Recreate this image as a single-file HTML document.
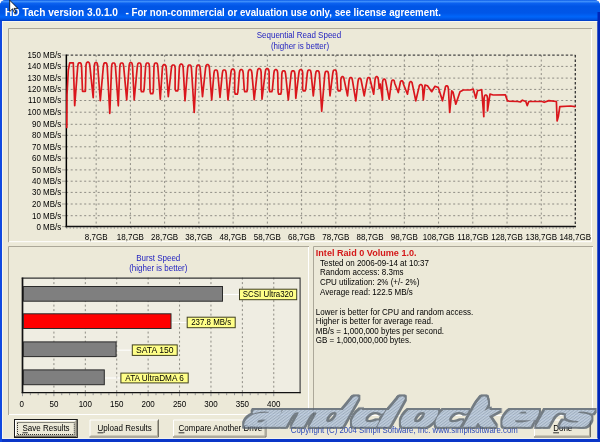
<!DOCTYPE html><html><head><meta charset="utf-8"><title>HD Tach</title><style>
html,body{margin:0;padding:0;width:600px;height:442px;overflow:hidden;background:#fff}
svg{display:block}
text{font-family:'Liberation Sans', Arial, sans-serif;font-size:8.6px;fill:#000}
.bl{fill:#2323C0}
</style></head><body>
<svg width="600" height="442" viewBox="0 0 600 442">
<defs>
<linearGradient id="tb" x1="0" y1="0" x2="0" y2="1"><stop offset="0" stop-color="#0A5BE8"/><stop offset="0.07" stop-color="#3D8EFA"/><stop offset="0.16" stop-color="#0B61F0"/><stop offset="0.3" stop-color="#0055E5"/><stop offset="0.62" stop-color="#0056E8"/><stop offset="0.8" stop-color="#0066FA"/><stop offset="0.93" stop-color="#0052E0"/><stop offset="1" stop-color="#0038C0"/></linearGradient>
<linearGradient id="wmg" x1="0" y1="0" x2="0" y2="1"><stop offset="0" stop-color="#8FA3BE"/><stop offset="0.45" stop-color="#C5D4E6"/><stop offset="1" stop-color="#9DB0C9"/></linearGradient>
<pattern id="wmh" width="2.6" height="10" patternUnits="userSpaceOnUse" patternTransform="rotate(32)"><rect width="2.6" height="10" fill="#B6C7DD"/><rect width="1.1" height="10" fill="#8B9FB9"/></pattern>
</defs>
<path d="M0,6 Q0,0 6,0 L594,0 Q600,0 600,6 L600,442 L0,442 Z" fill="#0A40D8"/>
<path d="M0,6 Q0,0 6,0 L594,0 Q600,0 600,6 L600,21 L0,21 Z" fill="url(#tb)"/>
<rect x="2" y="21" width="595.5" height="418" fill="#ECE9D8"/>
<rect x="2" y="21" width="595.5" height="1" fill="#F7F6F0"/>
<rect x="2" y="21" width="1" height="417" fill="#F7F6F0"/>
<rect x="597.5" y="12" width="2.5" height="430" fill="#0026B8"/>
<rect x="2" y="438" width="595.5" height="1" fill="#F4F3EC"/>
<rect x="0" y="439" width="600" height="3" fill="#0A36C8"/>
<rect x="0" y="21" width="2" height="421" fill="#1048E0"/>
<text x="5" y="15.6" style="font:bold 10px 'Liberation Sans', Arial, sans-serif;fill:#fff" textLength="113" lengthAdjust="spacingAndGlyphs">HD Tach version 3.0.1.0</text>
<text x="125.4" y="15.6" style="font:bold 10px 'Liberation Sans', Arial, sans-serif;fill:#fff">-</text>
<text x="131.5" y="15.6" style="font:bold 10px 'Liberation Sans', Arial, sans-serif;fill:#fff" textLength="309.5" lengthAdjust="spacingAndGlyphs">For non-commercial or evaluation use only, see license agreement.</text>
<path d="M8.5,242.2 V28.5 H592" fill="none" stroke="#ACA899" stroke-width="1"/>
<path d="M9,241.7 H591.5 V29" fill="none" stroke="#FFFFFF" stroke-width="1"/>
<path d="M8.5,415 V246.5 H309" fill="none" stroke="#ACA899" stroke-width="1"/>
<path d="M9,414.5 H308.5 V247" fill="none" stroke="#FFFFFF" stroke-width="1"/>
<path d="M313.5,416 V246.5 H593" fill="none" stroke="#ACA899" stroke-width="1"/>
<path d="M314,415.5 H592.5 V247" fill="none" stroke="#FFFFFF" stroke-width="1"/>
<line x1="66.2" y1="215.7" x2="575.3" y2="215.7" stroke="#8E8C84" stroke-width="1" stroke-dasharray="2,2.5"/>
<line x1="66.2" y1="204" x2="575.3" y2="204" stroke="#8E8C84" stroke-width="1" stroke-dasharray="2,2.5"/>
<line x1="66.2" y1="192.4" x2="575.3" y2="192.4" stroke="#8E8C84" stroke-width="1" stroke-dasharray="2,2.5"/>
<line x1="66.2" y1="181.2" x2="575.3" y2="181.2" stroke="#8E8C84" stroke-width="1" stroke-dasharray="2,2.5"/>
<line x1="66.2" y1="169.9" x2="575.3" y2="169.9" stroke="#8E8C84" stroke-width="1" stroke-dasharray="2,2.5"/>
<line x1="66.2" y1="158.1" x2="575.3" y2="158.1" stroke="#8E8C84" stroke-width="1" stroke-dasharray="2,2.5"/>
<line x1="66.2" y1="146.8" x2="575.3" y2="146.8" stroke="#8E8C84" stroke-width="1" stroke-dasharray="2,2.5"/>
<line x1="66.2" y1="135.3" x2="575.3" y2="135.3" stroke="#8E8C84" stroke-width="1" stroke-dasharray="2,2.5"/>
<line x1="66.2" y1="124.3" x2="575.3" y2="124.3" stroke="#8E8C84" stroke-width="1" stroke-dasharray="2,2.5"/>
<line x1="66.2" y1="112.2" x2="575.3" y2="112.2" stroke="#8E8C84" stroke-width="1" stroke-dasharray="2,2.5"/>
<line x1="66.2" y1="100.5" x2="575.3" y2="100.5" stroke="#8E8C84" stroke-width="1" stroke-dasharray="2,2.5"/>
<line x1="66.2" y1="89.4" x2="575.3" y2="89.4" stroke="#8E8C84" stroke-width="1" stroke-dasharray="2,2.5"/>
<line x1="66.2" y1="78.1" x2="575.3" y2="78.1" stroke="#8E8C84" stroke-width="1" stroke-dasharray="2,2.5"/>
<line x1="66.2" y1="66.4" x2="575.3" y2="66.4" stroke="#8E8C84" stroke-width="1" stroke-dasharray="2,2.5"/>
<line x1="96.16" y1="55.07" x2="96.16" y2="229.5" stroke="#8E8C84" stroke-width="1" stroke-dasharray="2,2.5"/>
<line x1="130.4" y1="55.07" x2="130.4" y2="229.5" stroke="#8E8C84" stroke-width="1" stroke-dasharray="2,2.5"/>
<line x1="164.64" y1="55.07" x2="164.64" y2="229.5" stroke="#8E8C84" stroke-width="1" stroke-dasharray="2,2.5"/>
<line x1="198.88" y1="55.07" x2="198.88" y2="229.5" stroke="#8E8C84" stroke-width="1" stroke-dasharray="2,2.5"/>
<line x1="233.12" y1="55.07" x2="233.12" y2="229.5" stroke="#8E8C84" stroke-width="1" stroke-dasharray="2,2.5"/>
<line x1="267.36" y1="55.07" x2="267.36" y2="229.5" stroke="#8E8C84" stroke-width="1" stroke-dasharray="2,2.5"/>
<line x1="301.6" y1="55.07" x2="301.6" y2="229.5" stroke="#8E8C84" stroke-width="1" stroke-dasharray="2,2.5"/>
<line x1="335.84" y1="55.07" x2="335.84" y2="229.5" stroke="#8E8C84" stroke-width="1" stroke-dasharray="2,2.5"/>
<line x1="370.08" y1="55.07" x2="370.08" y2="229.5" stroke="#8E8C84" stroke-width="1" stroke-dasharray="2,2.5"/>
<line x1="404.32" y1="55.07" x2="404.32" y2="229.5" stroke="#8E8C84" stroke-width="1" stroke-dasharray="2,2.5"/>
<line x1="438.56" y1="55.07" x2="438.56" y2="229.5" stroke="#8E8C84" stroke-width="1" stroke-dasharray="2,2.5"/>
<line x1="472.8" y1="55.07" x2="472.8" y2="229.5" stroke="#8E8C84" stroke-width="1" stroke-dasharray="2,2.5"/>
<line x1="507.04" y1="55.07" x2="507.04" y2="229.5" stroke="#8E8C84" stroke-width="1" stroke-dasharray="2,2.5"/>
<line x1="541.28" y1="55.07" x2="541.28" y2="229.5" stroke="#8E8C84" stroke-width="1" stroke-dasharray="2,2.5"/>
<line x1="66.2" y1="55.07" x2="575.3" y2="55.07" stroke="#444" stroke-width="1.2" stroke-dasharray="2.5,2"/>
<line x1="575.3" y1="55.07" x2="575.3" y2="226.6" stroke="#333" stroke-width="1.3" stroke-dasharray="2.5,2"/>
<line x1="66.2" y1="228" x2="575.3" y2="228" stroke="#888" stroke-width="1" stroke-dasharray="1.2,2.2"/>
<line x1="62" y1="226.6" x2="66" y2="226.6" stroke="#A4A298" stroke-width="1"/>
<line x1="62" y1="215.7" x2="66" y2="215.7" stroke="#A4A298" stroke-width="1"/>
<line x1="62" y1="204" x2="66" y2="204" stroke="#A4A298" stroke-width="1"/>
<line x1="62" y1="192.4" x2="66" y2="192.4" stroke="#A4A298" stroke-width="1"/>
<line x1="62" y1="181.2" x2="66" y2="181.2" stroke="#A4A298" stroke-width="1"/>
<line x1="62" y1="169.9" x2="66" y2="169.9" stroke="#A4A298" stroke-width="1"/>
<line x1="62" y1="158.1" x2="66" y2="158.1" stroke="#A4A298" stroke-width="1"/>
<line x1="62" y1="146.8" x2="66" y2="146.8" stroke="#A4A298" stroke-width="1"/>
<line x1="62" y1="135.3" x2="66" y2="135.3" stroke="#A4A298" stroke-width="1"/>
<line x1="62" y1="124.3" x2="66" y2="124.3" stroke="#A4A298" stroke-width="1"/>
<line x1="62" y1="112.2" x2="66" y2="112.2" stroke="#A4A298" stroke-width="1"/>
<line x1="62" y1="100.5" x2="66" y2="100.5" stroke="#A4A298" stroke-width="1"/>
<line x1="62" y1="89.4" x2="66" y2="89.4" stroke="#A4A298" stroke-width="1"/>
<line x1="62" y1="78.1" x2="66" y2="78.1" stroke="#A4A298" stroke-width="1"/>
<line x1="62" y1="66.4" x2="66" y2="66.4" stroke="#A4A298" stroke-width="1"/>
<line x1="62" y1="55.07" x2="66" y2="55.07" stroke="#A4A298" stroke-width="1"/>
<line x1="66.35" y1="54.57" x2="66.35" y2="227.29999999999998" stroke="#000" stroke-width="1.5"/>
<line x1="65.6" y1="226.6" x2="575.9" y2="226.6" stroke="#111" stroke-width="1.5"/>
<text x="61.3" y="229.5" text-anchor="end" textLength="24.89" lengthAdjust="spacingAndGlyphs">0 MB/s</text>
<text x="61.3" y="218.6" text-anchor="end" textLength="29.34" lengthAdjust="spacingAndGlyphs">10 MB/s</text>
<text x="61.3" y="206.9" text-anchor="end" textLength="29.34" lengthAdjust="spacingAndGlyphs">20 MB/s</text>
<text x="61.3" y="195.3" text-anchor="end" textLength="29.34" lengthAdjust="spacingAndGlyphs">30 MB/s</text>
<text x="61.3" y="184.1" text-anchor="end" textLength="29.34" lengthAdjust="spacingAndGlyphs">40 MB/s</text>
<text x="61.3" y="172.8" text-anchor="end" textLength="29.34" lengthAdjust="spacingAndGlyphs">50 MB/s</text>
<text x="61.3" y="161" text-anchor="end" textLength="29.34" lengthAdjust="spacingAndGlyphs">60 MB/s</text>
<text x="61.3" y="149.7" text-anchor="end" textLength="29.34" lengthAdjust="spacingAndGlyphs">70 MB/s</text>
<text x="61.3" y="138.2" text-anchor="end" textLength="29.34" lengthAdjust="spacingAndGlyphs">80 MB/s</text>
<text x="61.3" y="127.2" text-anchor="end" textLength="29.34" lengthAdjust="spacingAndGlyphs">90 MB/s</text>
<text x="61.3" y="115.1" text-anchor="end" textLength="33.79" lengthAdjust="spacingAndGlyphs">100 MB/s</text>
<text x="61.3" y="103.4" text-anchor="end" textLength="33.2" lengthAdjust="spacingAndGlyphs">110 MB/s</text>
<text x="61.3" y="92.3" text-anchor="end" textLength="33.79" lengthAdjust="spacingAndGlyphs">120 MB/s</text>
<text x="61.3" y="81" text-anchor="end" textLength="33.79" lengthAdjust="spacingAndGlyphs">130 MB/s</text>
<text x="61.3" y="69.3" text-anchor="end" textLength="33.79" lengthAdjust="spacingAndGlyphs">140 MB/s</text>
<text x="61.3" y="57.97" text-anchor="end" textLength="33.79" lengthAdjust="spacingAndGlyphs">150 MB/s</text>
<text x="96.16" y="239.7" text-anchor="middle" textLength="22.68" lengthAdjust="spacingAndGlyphs">8,7GB</text>
<text x="130.4" y="239.7" text-anchor="middle" textLength="27.13" lengthAdjust="spacingAndGlyphs">18,7GB</text>
<text x="164.64" y="239.7" text-anchor="middle" textLength="27.13" lengthAdjust="spacingAndGlyphs">28,7GB</text>
<text x="198.88" y="239.7" text-anchor="middle" textLength="27.13" lengthAdjust="spacingAndGlyphs">38,7GB</text>
<text x="233.12" y="239.7" text-anchor="middle" textLength="27.13" lengthAdjust="spacingAndGlyphs">48,7GB</text>
<text x="267.36" y="239.7" text-anchor="middle" textLength="27.13" lengthAdjust="spacingAndGlyphs">58,7GB</text>
<text x="301.6" y="239.7" text-anchor="middle" textLength="27.13" lengthAdjust="spacingAndGlyphs">68,7GB</text>
<text x="335.84" y="239.7" text-anchor="middle" textLength="27.13" lengthAdjust="spacingAndGlyphs">78,7GB</text>
<text x="370.08" y="239.7" text-anchor="middle" textLength="27.13" lengthAdjust="spacingAndGlyphs">88,7GB</text>
<text x="404.32" y="239.7" text-anchor="middle" textLength="27.13" lengthAdjust="spacingAndGlyphs">98,7GB</text>
<text x="438.56" y="239.7" text-anchor="middle" textLength="31.58" lengthAdjust="spacingAndGlyphs">108,7GB</text>
<text x="472.8" y="239.7" text-anchor="middle" textLength="30.98" lengthAdjust="spacingAndGlyphs">118,7GB</text>
<text x="507.04" y="239.7" text-anchor="middle" textLength="31.58" lengthAdjust="spacingAndGlyphs">128,7GB</text>
<text x="541.28" y="239.7" text-anchor="middle" textLength="31.58" lengthAdjust="spacingAndGlyphs">138,7GB</text>
<text x="591" y="239.7" text-anchor="end" textLength="31.58" lengthAdjust="spacingAndGlyphs">148,7GB</text>
<text x="299" y="38.3" text-anchor="middle" class="bl" textLength="84.51" lengthAdjust="spacingAndGlyphs">Sequential Read Speed</text>
<text x="300" y="48.8" text-anchor="middle" class="bl" textLength="58.25" lengthAdjust="spacingAndGlyphs">(higher is better)</text>
<path d="M66.8,127.5 L67,95 L68.3,70 L69.7,62.8 L73.3,62.8 L74.7,105.6 L77.75,66 L78.25,63.6 L78.95,62.8 L80.35,62.8 L81.05,63.6 L81.55,66 L82.5,91.3 L85.4,91.3 L86,65.4 L86.5,63 L87.2,62.2 L88.6,62.2 L89.3,63 L89.8,65.4 L93.2,97.7 L94.3,65.7 L94.8,63.3 L95.5,62.5 L96.5,62.5 L97.2,63.3 L97.7,65.7 L100.3,100.6 L103.4,66 L103.9,63.6 L104.6,62.8 L106,62.8 L106.7,63.6 L107.2,66 L109.8,113.4 L111.6,66.2 L112.1,63.8 L112.8,63 L114.2,63 L114.9,63.8 L115.4,66.2 L118.3,105.8 L119.85,66.2 L120.35,63.8 L121.05,63 L122.45,63 L123.15,63.8 L123.65,66.2 L126.7,100 L129.1,65.7 L129.6,63.3 L130.3,62.5 L131.3,62.5 L132,63.3 L132.5,65.7 L134.2,100 L137.35,66.2 L137.85,63.8 L138.55,63 L139.95,63 L140.65,63.8 L141.15,66.2 L140.9,89.5 L141.5,91.7 L143.5,91.7 L144.1,89.5 L145.65,66.2 L146.15,63.8 L146.85,63 L148.25,63 L148.95,63.8 L149.45,66.2 L150.1,91.5 L150.7,93.7 L152.7,93.7 L153.3,91.5 L154,66.2 L154.5,63.8 L155.2,63 L156.6,63 L157.3,63.8 L157.8,66.2 L160.3,99.2 L162.4,67.9 L162.9,65.5 L163.6,64.7 L165,64.7 L165.7,65.5 L166.2,67.9 L168.3,96.7 L171.4,68.2 L171.9,65.8 L172.6,65 L174,65 L174.7,65.8 L175.2,68.2 L175.1,88.6 L175.7,90.8 L177.7,90.8 L178.3,88.6 L179.35,67.4 L179.85,65 L180.55,64.2 L181.95,64.2 L182.65,65 L183.15,67.4 L185,100.8 L187.65,68.2 L188.15,65.8 L188.85,65 L190.25,65 L190.95,65.8 L191.45,68.2 L194.2,112.5 L196.4,68.2 L196.9,65.8 L197.6,65 L199,65 L199.7,65.8 L200.2,68.2 L202.5,96.7 L205.6,67.9 L206.1,65.5 L206.8,64.7 L208.2,64.7 L208.9,65.5 L209.4,67.9 L211.7,100 L213.95,73.2 L214.45,70.8 L215.15,70 L216.55,70 L217.25,70.8 L217.75,73.2 L220,97.5 L222.35,73.2 L222.85,70.8 L223.55,70 L224.95,70 L225.65,70.8 L226.15,73.2 L228,100 L230.95,72.4 L231.45,70 L232.15,69.2 L233.55,69.2 L234.25,70 L234.75,72.4 L234.7,92 L235.3,94.2 L237.3,94.2 L237.9,92 L239.4,72.9 L239.9,70.5 L240.6,69.7 L242,69.7 L242.7,70.5 L243.2,72.9 L244.2,89.5 L244.8,91.7 L246.8,91.7 L247.4,89.5 L248.1,72.9 L248.6,70.5 L249.3,69.7 L250.7,69.7 L251.4,70.5 L251.9,72.9 L254.2,99.7 L257.3,71.9 L257.8,69.5 L258.5,68.7 L259.9,68.7 L260.6,69.5 L261.1,71.9 L262,99.2 L265.3,71.9 L265.8,69.5 L266.5,68.7 L267.9,68.7 L268.6,69.5 L269.1,71.9 L269.2,89.5 L269.8,91.7 L271.8,91.7 L272.4,89.5 L273.9,72.9 L274.4,70.5 L275.1,69.7 L276.5,69.7 L277.2,70.5 L277.7,72.9 L278.1,92 L278.7,94.2 L280.7,94.2 L281.3,92 L281.8,74 L282.3,71.6 L283,70.8 L284.4,70.8 L285.1,71.6 L285.6,74 L288.3,100 L291.1,74 L291.6,71.6 L292.3,70.8 L293.7,70.8 L294.4,71.6 L294.9,74 L295.8,98.3 L298.9,72.9 L299.4,70.5 L300.1,69.7 L301.5,69.7 L302.2,70.5 L302.7,72.9 L302.6,88.6 L303.2,90.8 L305.2,90.8 L305.8,88.6 L307.3,73.2 L307.8,70.8 L308.5,70 L309.9,70 L310.6,70.8 L311.1,73.2 L313.3,95.8 L315.6,74 L316.1,71.6 L316.8,70.8 L318.2,70.8 L318.9,71.6 L319.4,74 L321.7,111.3 L324.8,74.5 L325.3,72.1 L326,71.3 L327.4,71.3 L328.1,72.1 L328.6,74.5 L330,95.8 L332.8,73.2 L333.3,70.8 L334,70 L335.4,70 L336.1,70.8 L336.6,73.2 L337.6,88.6 L338.2,90.8 L340.2,90.8 L340.8,88.6 L340.8,79.9 L341.3,77.5 L342,76.7 L343,76.7 L343.7,77.5 L344.2,79.9 L347.5,95.8 L349.1,80.7 L349.6,78.3 L350.3,77.5 L351.3,77.5 L352,78.3 L352.5,80.7 L355.8,100.8 L358,81.5 L358.5,79.1 L359.2,78.3 L360.2,78.3 L360.9,79.1 L361.4,81.5 L364.2,95.8 L367,80.7 L367.5,78.3 L368.2,77.5 L369.2,77.5 L369.9,78.3 L370.4,80.7 L373.7,94.2 L375,79.9 L375.5,77.5 L376.2,76.7 L377.2,76.7 L377.9,77.5 L378.4,79.9 L379.2,88.3 L380.3,84 L382.5,100 L382.5,82.4 L383,80 L383.7,79.2 L384.7,79.2 L385.4,80 L385.9,82.4 L389.2,99.2 L391.3,83.2 L391.8,80.8 L392.5,80 L393.5,80 L394.2,80.8 L394.7,83.2 L398.3,92.5 L400,84 L400.5,81.6 L401.2,80.8 L402.2,80.8 L402.9,81.6 L403.4,84 L407.5,94.2 L409.1,84.9 L409.6,82.5 L410.3,81.7 L411.3,81.7 L412,82.5 L412.5,84.9 L415.8,100.8 L418.85,87.9 L419.35,85.5 L420.05,84.7 L421.45,84.7 L422.15,85.5 L422.65,87.9 L423.3,100 L425,85 L427.5,85.8 L431.7,91.7 L435,86.3 L438.3,87.5 L442.5,100.8 L445,89 L445.5,86.6 L446.2,85.8 L447.2,85.8 L447.9,86.6 L448.4,89 L449.7,112.5 L451.7,90.8 L453,92 L455.8,104.2 L460,91.7 L463.3,90 L470,90 L473.3,89.2 L475.8,98.3 L477.5,90.8 L481.7,89.7 L483.8,116.7 L484.1,98.2 L484.6,95.8 L485.3,95 L486.3,95 L487,95.8 L487.5,98.2 L487.5,110.8 L490,94.2 L493.3,95 L505.4,94.9 L507.5,101 L517.7,101.5 L520.4,102 L522.4,100.2 L525.8,101.5 L527.2,105.6 L528.8,101.5 L542.1,101.5 L544.2,102.3 L548.9,100.6 L556.4,101.5 L557.1,121 L558.4,116.2 L559.8,106.7 L570.7,106 L575,106.7" fill="none" stroke="#DA161C" stroke-width="1.7" stroke-linejoin="round" stroke-linecap="round"/>
<text x="158.3" y="260.6" text-anchor="middle" class="bl" textLength="44.03" lengthAdjust="spacingAndGlyphs">Burst Speed</text>
<text x="158.3" y="270.6" text-anchor="middle" class="bl" textLength="58.25" lengthAdjust="spacingAndGlyphs">(higher is better)</text>
<rect x="21.7" y="277.6" width="278.9" height="115.6" fill="#EFEDE2"/>
<line x1="53.91" y1="277.6" x2="53.91" y2="393.2" stroke="#8E8C84" stroke-width="1" stroke-dasharray="2,2.5"/>
<line x1="85.32" y1="277.6" x2="85.32" y2="393.2" stroke="#8E8C84" stroke-width="1" stroke-dasharray="2,2.5"/>
<line x1="116.73" y1="277.6" x2="116.73" y2="393.2" stroke="#8E8C84" stroke-width="1" stroke-dasharray="2,2.5"/>
<line x1="148.14" y1="277.6" x2="148.14" y2="393.2" stroke="#8E8C84" stroke-width="1" stroke-dasharray="2,2.5"/>
<line x1="179.55" y1="277.6" x2="179.55" y2="393.2" stroke="#8E8C84" stroke-width="1" stroke-dasharray="2,2.5"/>
<line x1="210.96" y1="277.6" x2="210.96" y2="393.2" stroke="#8E8C84" stroke-width="1" stroke-dasharray="2,2.5"/>
<line x1="242.37" y1="277.6" x2="242.37" y2="393.2" stroke="#8E8C84" stroke-width="1" stroke-dasharray="2,2.5"/>
<line x1="273.78" y1="277.6" x2="273.78" y2="393.2" stroke="#8E8C84" stroke-width="1" stroke-dasharray="2,2.5"/>
<line x1="22.5" y1="393.2" x2="22.5" y2="396.2" stroke="#999" stroke-width="1"/>
<line x1="30.35" y1="393.2" x2="30.35" y2="395.2" stroke="#999" stroke-width="1"/>
<line x1="38.2" y1="393.2" x2="38.2" y2="395.2" stroke="#999" stroke-width="1"/>
<line x1="46.06" y1="393.2" x2="46.06" y2="395.2" stroke="#999" stroke-width="1"/>
<line x1="53.91" y1="393.2" x2="53.91" y2="396.2" stroke="#999" stroke-width="1"/>
<line x1="61.76" y1="393.2" x2="61.76" y2="395.2" stroke="#999" stroke-width="1"/>
<line x1="69.62" y1="393.2" x2="69.62" y2="395.2" stroke="#999" stroke-width="1"/>
<line x1="77.47" y1="393.2" x2="77.47" y2="395.2" stroke="#999" stroke-width="1"/>
<line x1="85.32" y1="393.2" x2="85.32" y2="396.2" stroke="#999" stroke-width="1"/>
<line x1="93.17" y1="393.2" x2="93.17" y2="395.2" stroke="#999" stroke-width="1"/>
<line x1="101.02" y1="393.2" x2="101.02" y2="395.2" stroke="#999" stroke-width="1"/>
<line x1="108.88" y1="393.2" x2="108.88" y2="395.2" stroke="#999" stroke-width="1"/>
<line x1="116.73" y1="393.2" x2="116.73" y2="396.2" stroke="#999" stroke-width="1"/>
<line x1="124.58" y1="393.2" x2="124.58" y2="395.2" stroke="#999" stroke-width="1"/>
<line x1="132.44" y1="393.2" x2="132.44" y2="395.2" stroke="#999" stroke-width="1"/>
<line x1="140.29" y1="393.2" x2="140.29" y2="395.2" stroke="#999" stroke-width="1"/>
<line x1="148.14" y1="393.2" x2="148.14" y2="396.2" stroke="#999" stroke-width="1"/>
<line x1="155.99" y1="393.2" x2="155.99" y2="395.2" stroke="#999" stroke-width="1"/>
<line x1="163.84" y1="393.2" x2="163.84" y2="395.2" stroke="#999" stroke-width="1"/>
<line x1="171.7" y1="393.2" x2="171.7" y2="395.2" stroke="#999" stroke-width="1"/>
<line x1="179.55" y1="393.2" x2="179.55" y2="396.2" stroke="#999" stroke-width="1"/>
<line x1="187.4" y1="393.2" x2="187.4" y2="395.2" stroke="#999" stroke-width="1"/>
<line x1="195.25" y1="393.2" x2="195.25" y2="395.2" stroke="#999" stroke-width="1"/>
<line x1="203.11" y1="393.2" x2="203.11" y2="395.2" stroke="#999" stroke-width="1"/>
<line x1="210.96" y1="393.2" x2="210.96" y2="396.2" stroke="#999" stroke-width="1"/>
<line x1="218.81" y1="393.2" x2="218.81" y2="395.2" stroke="#999" stroke-width="1"/>
<line x1="226.66" y1="393.2" x2="226.66" y2="395.2" stroke="#999" stroke-width="1"/>
<line x1="234.52" y1="393.2" x2="234.52" y2="395.2" stroke="#999" stroke-width="1"/>
<line x1="242.37" y1="393.2" x2="242.37" y2="396.2" stroke="#999" stroke-width="1"/>
<line x1="250.22" y1="393.2" x2="250.22" y2="395.2" stroke="#999" stroke-width="1"/>
<line x1="258.07" y1="393.2" x2="258.07" y2="395.2" stroke="#999" stroke-width="1"/>
<line x1="265.93" y1="393.2" x2="265.93" y2="395.2" stroke="#999" stroke-width="1"/>
<line x1="273.78" y1="393.2" x2="273.78" y2="396.2" stroke="#999" stroke-width="1"/>
<path d="M21.7,278.1 H300.1 V393.2" fill="none" stroke="#333" stroke-width="1.1"/>
<line x1="22.5" y1="277.6" x2="22.5" y2="393.2" stroke="#111" stroke-width="1.7"/>
<line x1="21.7" y1="392.59999999999997" x2="300.6" y2="392.59999999999997" stroke="#111" stroke-width="1.4"/>
<line x1="223" y1="294.45" x2="239" y2="294.45" stroke="#fff" stroke-width="1"/>
<rect x="23.4" y="286.5" width="199.1" height="14.7" fill="#7F7F7F" stroke="#2a2a2a" stroke-width="1"/>
<rect x="239.5" y="289.2" width="57.2" height="10.5" fill="#FFFF88" stroke="#404020" stroke-width="1"/>
<text x="268.1" y="297.35" text-anchor="middle" textLength="50.5" lengthAdjust="spacingAndGlyphs">SCSI Ultra320</text>
<line x1="171.5" y1="322.45" x2="186.7" y2="322.45" stroke="#fff" stroke-width="1"/>
<rect x="23.4" y="313.8" width="147.6" height="14.7" fill="#FF0000" stroke="#2a2a2a" stroke-width="1"/>
<rect x="187.2" y="317.2" width="48" height="10.5" fill="#FFFF88" stroke="#404020" stroke-width="1"/>
<text x="211.2" y="325.35" text-anchor="middle" textLength="40" lengthAdjust="spacingAndGlyphs">237.8 MB/s</text>
<line x1="116.6" y1="350.15" x2="131.8" y2="350.15" stroke="#fff" stroke-width="1"/>
<rect x="23.4" y="341.9" width="92.7" height="14.7" fill="#7F7F7F" stroke="#2a2a2a" stroke-width="1"/>
<rect x="132.3" y="344.9" width="44.9" height="10.5" fill="#FFFF88" stroke="#404020" stroke-width="1"/>
<text x="154.75" y="353.05" text-anchor="middle" textLength="37.5" lengthAdjust="spacingAndGlyphs">SATA 150</text>
<line x1="104.8" y1="378" x2="120.4" y2="378" stroke="#fff" stroke-width="1"/>
<rect x="23.4" y="369.9" width="80.9" height="14.8" fill="#7F7F7F" stroke="#2a2a2a" stroke-width="1"/>
<rect x="120.9" y="373.1" width="67.3" height="9.8" fill="#FFFF88" stroke="#404020" stroke-width="1"/>
<text x="154.55" y="380.9" text-anchor="middle" textLength="58.5" lengthAdjust="spacingAndGlyphs">ATA UltraDMA 6</text>
<text x="21.8" y="406.8" text-anchor="middle" textLength="4.45" lengthAdjust="spacingAndGlyphs">0</text>
<text x="53.91" y="406.8" text-anchor="middle" textLength="8.9" lengthAdjust="spacingAndGlyphs">50</text>
<text x="85.32" y="406.8" text-anchor="middle" textLength="13.35" lengthAdjust="spacingAndGlyphs">100</text>
<text x="116.73" y="406.8" text-anchor="middle" textLength="13.35" lengthAdjust="spacingAndGlyphs">150</text>
<text x="148.14" y="406.8" text-anchor="middle" textLength="13.35" lengthAdjust="spacingAndGlyphs">200</text>
<text x="179.55" y="406.8" text-anchor="middle" textLength="13.35" lengthAdjust="spacingAndGlyphs">250</text>
<text x="210.96" y="406.8" text-anchor="middle" textLength="13.35" lengthAdjust="spacingAndGlyphs">300</text>
<text x="242.37" y="406.8" text-anchor="middle" textLength="13.35" lengthAdjust="spacingAndGlyphs">350</text>
<text x="273.78" y="406.8" text-anchor="middle" textLength="13.35" lengthAdjust="spacingAndGlyphs">400</text>
<text x="315.8" y="255.9" style="font-weight:bold;fill:#D41818" textLength="100.8" lengthAdjust="spacingAndGlyphs">Intel Raid 0 Volume 1.0.</text>
<text x="320" y="265.6" textLength="108.97" lengthAdjust="spacingAndGlyphs">Tested on 2006-09-14 at 10:37</text>
<text x="320" y="275.35" textLength="83.59" lengthAdjust="spacingAndGlyphs">Random access: 8.3ms</text>
<text x="320" y="285.1" textLength="99.37" lengthAdjust="spacingAndGlyphs">CPU utilization: 2% (+/- 2%)</text>
<text x="320" y="294.85" textLength="92.8" lengthAdjust="spacingAndGlyphs">Average read: 122.5 MB/s</text>
<text x="315.8" y="314.6" textLength="157.4" lengthAdjust="spacingAndGlyphs">Lower is better for CPU and random access.</text>
<text x="315.8" y="324.2" textLength="117.39" lengthAdjust="spacingAndGlyphs">Higher is better for average read.</text>
<text x="315.8" y="333.8" textLength="128.3" lengthAdjust="spacingAndGlyphs">MB/s = 1,000,000 bytes per second.</text>
<text x="315.8" y="343.4" textLength="95.4" lengthAdjust="spacingAndGlyphs">GB = 1,000,000,000 bytes.</text>
<rect x="14.5" y="419.5" width="62.8" height="18" fill="#ECE9D8" stroke="#1a1a1a" stroke-width="1"/>
<path d="M15.5,436 V420.5 H75.8" fill="none" stroke="#FFFFFF" stroke-width="1"/>
<path d="M15,436.5 H76.3 V420" fill="none" stroke="#716F64" stroke-width="1"/>
<path d="M16,435.5 H75.3 V421" fill="none" stroke="#ACA899" stroke-width="1"/>
<rect x="17.5" y="422.5" width="56.8" height="12" fill="none" stroke="#222" stroke-width="1" stroke-dasharray="1,1"/>
<text x="22.5" y="431.3" textLength="47.13" lengthAdjust="spacingAndGlyphs">Save Results</text>
<line x1="22.5" y1="432.8" x2="27.8" y2="432.8" stroke="#1a1a1a" stroke-width="0.9"/>
<rect x="89.5" y="419.5" width="69.5" height="18.0" fill="#ECE9D8"/>
<path d="M90.0,436.5 V420.0 H158" fill="none" stroke="#FFFFFF" stroke-width="1"/>
<path d="M89.5,437.0 H158.5 V419.5" fill="none" stroke="#716F64" stroke-width="1"/>
<path d="M90.5,436.0 H157.5 V420.5" fill="none" stroke="#ACA899" stroke-width="1"/>
<text x="97.6" y="431.3" textLength="54.25" lengthAdjust="spacingAndGlyphs">Upload Results</text>
<line x1="97.6" y1="432.8" x2="103.4" y2="432.8" stroke="#1a1a1a" stroke-width="0.9"/>
<rect x="173" y="419.5" width="93.5" height="18.0" fill="#ECE9D8"/>
<path d="M173.5,436.5 V420.0 H265.5" fill="none" stroke="#FFFFFF" stroke-width="1"/>
<path d="M173,437.0 H266.0 V419.5" fill="none" stroke="#716F64" stroke-width="1"/>
<path d="M174,436.0 H265.0 V420.5" fill="none" stroke="#ACA899" stroke-width="1"/>
<text x="178.6" y="431.3" textLength="83.59" lengthAdjust="spacingAndGlyphs">Compare Another Drive</text>
<line x1="178.6" y1="432.8" x2="184.4" y2="432.8" stroke="#1a1a1a" stroke-width="0.9"/>
<rect x="534" y="419.5" width="57" height="18.0" fill="#ECE9D8"/>
<path d="M534.5,436.5 V420.0 H590" fill="none" stroke="#FFFFFF" stroke-width="1"/>
<path d="M534,437.0 H590.5 V419.5" fill="none" stroke="#716F64" stroke-width="1"/>
<path d="M535,436.0 H589.5 V420.5" fill="none" stroke="#ACA899" stroke-width="1"/>
<text x="553.2" y="431.3" textLength="19.12" lengthAdjust="spacingAndGlyphs">Done</text>
<line x1="553.2" y1="432.8" x2="559" y2="432.8" stroke="#1a1a1a" stroke-width="0.9"/>
<text x="290.8" y="432.9" style="fill:#2A48B8" textLength="227" lengthAdjust="spacingAndGlyphs">Copyright (C) 2004 Simpli Software, Inc. www.simplisoftware.com</text>
<path d="M9.7,0.2 L9.7,11.6 L12.5,8.8 L14.6,13.1 L16.1,12.3 L14,8.4 L17.8,8.4 Z" fill="#fff" stroke="#000" stroke-width="0.8" stroke-linejoin="miter"/>
<filter id="wmf" x="-5%" y="-30%" width="110%" height="160%" color-interpolation-filters="sRGB"><feMorphology in="SourceAlpha" operator="dilate" radius="1.9" result="big"/><feFlood flood-color="#56616F" result="dk"/><feComposite in="dk" in2="big" operator="in" result="outline"/><feMerge><feMergeNode in="outline"/><feMergeNode in="SourceGraphic"/></feMerge></filter>
<clipPath id="wmc"><path d="M230,410.09999999999997 H600 V426.70000000000005 H230 Z M342,411 L353.5,397 L356,396 L358.5,397 L362,411 Z M388,411 L399.5,397 L402,396 L404.5,397 L408,411 Z M470,411 L481.5,397 L484,396 L486.5,397 L490,411 Z"/></clipPath>
<g opacity="0.8" filter="url(#wmf)"><g clip-path="url(#wmc)">
<text x="0 23 52.8 83.5 104.5 122 149.5 172.5 202 229.5 249" y="0" transform="translate(241,428.4) skewX(-29) scale(1.27,1)" style="font:bold 40px 'DejaVu Sans', sans-serif;fill:url(#wmh);stroke:url(#wmh);stroke-width:2.6;stroke-linejoin:round">amdclockers</text>
</g></g>
</svg></body></html>
